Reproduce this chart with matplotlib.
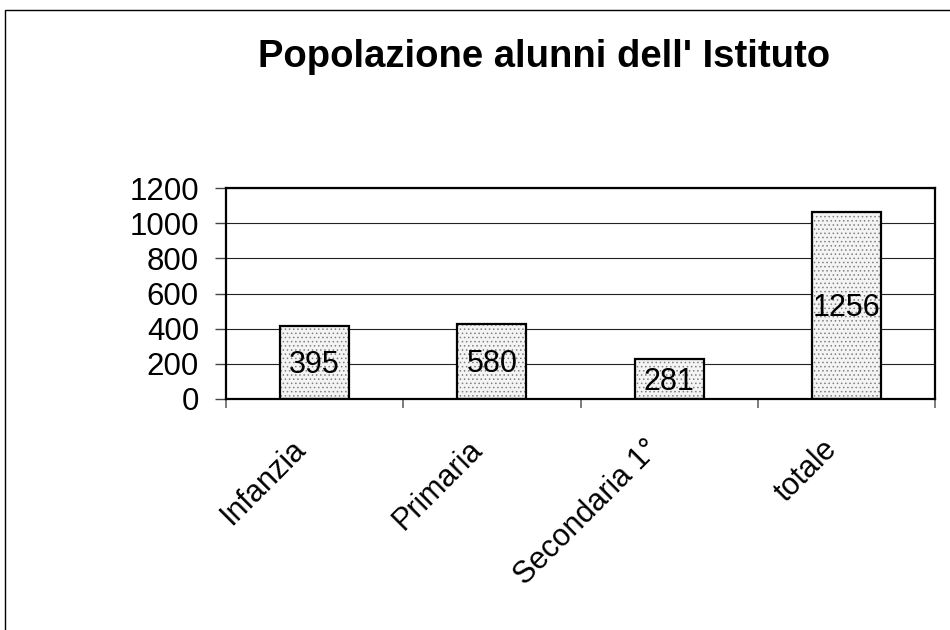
import matplotlib
matplotlib.use("Agg")
import matplotlib.pyplot as plt
from matplotlib.patches import Rectangle

plt.rcParams['font.family'] = ['Liberation Sans', 'DejaVu Sans']
plt.rcParams['hatch.linewidth'] = 0.6

categories = ["Infanzia", "Primaria", "Secondaria 1°", "totale"]
bar_heights = [415, 427, 228, 1063]
bar_labels = ["395", "580", "281", "1256"]
y_ticks = [0, 200, 400, 600, 800, 1000, 1200]

fig = plt.figure(figsize=(9.5, 6.3), dpi=100)
# outer chart border
fig.add_artist(Rectangle((4.5/950, -0.1), 1.2, 1 - 10/630 + 0.1, transform=fig.transFigure,
                         fill=False, edgecolor='black', linewidth=1.0))

ax = fig.add_axes([226/950, 1 - 399/630, (935 - 226)/950, (399 - 188)/630])
x = list(range(len(categories)))
ax.bar(x, bar_heights, width=0.39, color='#f4f4f4', edgecolor='#808080', linewidth=0,
       hatch='....', zorder=2)
ax.bar(x, bar_heights, width=0.39, fill=False, edgecolor='black', linewidth=1.6, zorder=3)

for xi, h, lab in zip(x, bar_heights, bar_labels):
    ax.annotate(lab, xy=(xi, h / 2), xycoords='data', xytext=(0, -2), textcoords='offset points',
                ha='center', va='center', fontsize=22, zorder=4)

ax.set_xlim(-0.5, len(categories) - 0.5)
ax.set_ylim(0, 1200)
ax.set_yticks(y_ticks)
ax.set_yticklabels([str(v) for v in y_ticks], fontsize=22.5)
ax.yaxis.grid(True, color='#222222', linewidth=0.8, zorder=0)
ax.set_axisbelow(True)

ax.set_xticks([i - 0.5 for i in range(len(categories) + 1)], minor=False)
ax.set_xticklabels([])
ax.tick_params(axis='x', length=6.5, width=1.2, color='#666666', direction='out')
ax.tick_params(axis='y', length=8, width=1.0, color='#444444', direction='out', pad=11.5)

for xi, lab in zip(x, categories):
    ax.annotate(lab, xy=(xi, 0), xycoords='data', xytext=(-10, -33), textcoords='offset points',
                rotation=45, ha='right', va='center', rotation_mode='anchor', fontsize=22)

for s in ax.spines.values():
    s.set_linewidth(1.6)
    s.set_color('black')

fig.text(0.573, 1 - 67/630, "Popolazione alunni dell' Istituto", ha='center', va='baseline',
         fontsize=27.5, fontweight='bold')

fig.savefig("out.png", dpi=100)
